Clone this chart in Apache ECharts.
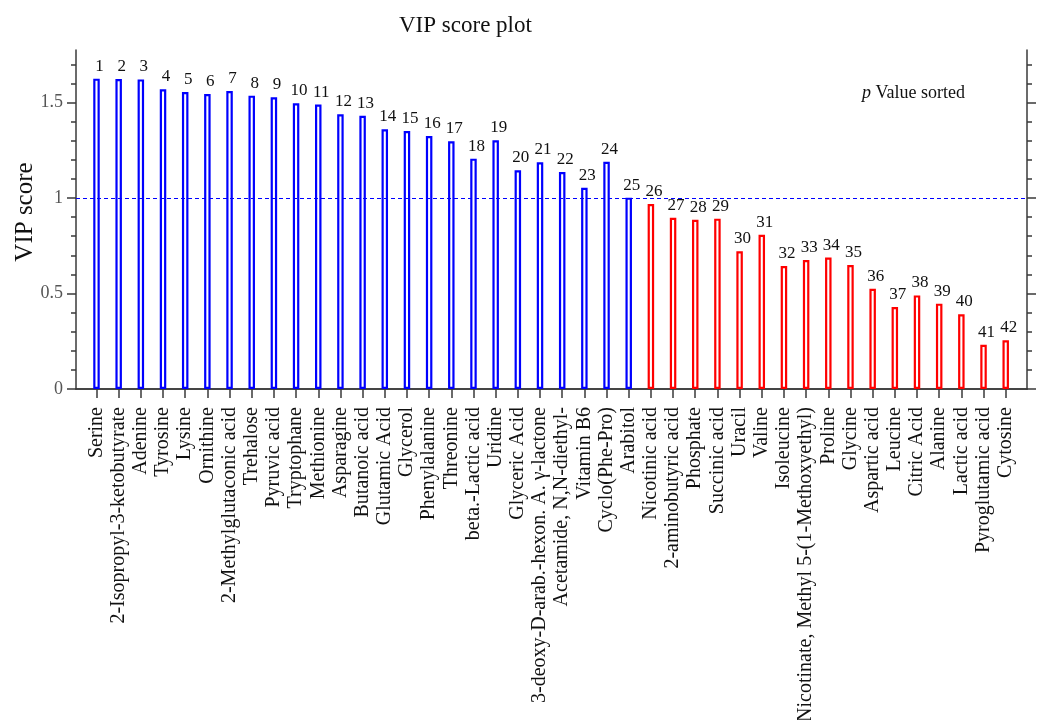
<!DOCTYPE html>
<html>
<head>
<meta charset="utf-8">
<script src="https://cdn.jsdelivr.net/npm/echarts@6/dist/echarts.min.js"></script>
<style>
  html, body { margin: 0; padding: 0; background: #fff; }
  #chart { width: 1041px; height: 720px; }
</style>
</head>
<body>
<div id="chart"></div>
<script>
// Metabolites ordered by p value, with their VIP scores
const metabolites = [
  'Serine', '2-Isopropyl-3-ketobutyrate', 'Adenine', 'Tyrosine', 'Lysine',
  'Ornithine', '2-Methylglutaconic acid', 'Trehalose', 'Pyruvic acid', 'Tryptophane',
  'Methionine', 'Asparagine', 'Butanoic acid', 'Glutamic Acid', 'Glycerol',
  'Phenylalanine', 'Threonine', 'beta.-Lactic acid', 'Uridine', 'Glyceric Acid',
  '3-deoxy-D-arab.-hexon. A. \u03b3-lactone', 'Acetamide, N,N-diethyl-', 'Vitamin B6', 'Cyclo(Phe-Pro)', 'Arabitol',
  'Nicotinic acid', '2-aminobutyric acid', 'Phosphate', 'Succinic acid', 'Uracil',
  'Valine', 'Isoleucine', 'Nicotinate, Methyl 5-(1-Methoxyethyl)', 'Proline', 'Glycine',
  'Aspartic acid', 'Leucine', 'Citric Acid', 'Alanine', 'Lactic acid',
  'Pyroglutamic acid', 'Cytosine'
];
const vipScores = [
  1.625, 1.623, 1.621, 1.569, 1.555, 1.545, 1.560, 1.536, 1.527, 1.496,
  1.489, 1.438, 1.431, 1.360, 1.351, 1.325, 1.297, 1.206, 1.302, 1.145,
  1.187, 1.136, 1.054, 1.190, 1.002, 0.969, 0.897, 0.886, 0.892, 0.721,
  0.808, 0.644, 0.675, 0.688, 0.649, 0.525, 0.429, 0.490, 0.447, 0.391,
  0.232, 0.255
];
const vipThreshold = 1;
const yLabelTicks = [0, 0.5, 1, 1.5];
const yMinorTicks = [0, 0.1, 0.2, 0.3, 0.4, 0.5, 0.6, 0.7, 0.8, 0.9, 1, 1.1, 1.2, 1.3, 1.4, 1.5, 1.6, 1.7];
const topMajorTicks = [5, 10, 15, 20, 25, 30, 35, 40];

const positions = metabolites.map((_, i) => i + 1);
const FONT = 'Liberation Serif';
const AXIS_COLOR = '#3a3a3a';

// Hollow bars: blue above the VIP threshold, red below it
const barData = vipScores.map((v, i) => ({
  value: [i + 1, v],
  itemStyle: {
    color: '#ffffff',
    borderColor: v >= vipThreshold ? '#0000ff' : '#ff0000',
    borderWidth: 2.2
  }
}));

const yCommon = { type: 'value', min: 0, max: 1.775, splitLine: { show: false } };
const xCommon = { type: 'value', min: 0.076, max: 42.96, splitLine: { show: false } };
const lineStyle = { color: AXIS_COLOR, width: 1.5 };

const chart = echarts.init(document.getElementById('chart'), null, { renderer: 'canvas' });
chart.setOption({
  animation: false,
  backgroundColor: '#ffffff',
  grid: { left: 76, right: 14, top: 50, bottom: 331, containLabel: false, outerBoundsMode: 'none' },
  title: {
    text: 'VIP score plot',
    left: 394, top: 9,
    textStyle: { fontFamily: FONT, fontSize: 23, fontWeight: 'normal', color: '#111' }
  },
  graphic: [
    {
      type: 'text', left: 862, top: 84,
      style: {
        text: '{i|p} Value sorted',
        rich: { i: { fontStyle: 'italic', fontFamily: FONT, fontSize: 18, fill: '#111' } },
        font: '18px "Liberation Serif"', fill: '#111'
      }
    },
    {
      type: 'text', rotation: Math.PI / 2, x: 13, y: 212,
      style: {
        text: 'VIP score', font: '25px "Liberation Serif"', fill: '#111',
        align: 'center', verticalAlign: 'top'
      }
    }
  ],
  xAxis: [
    Object.assign({}, xCommon, {
      position: 'bottom',
      axisLine: { show: true, lineStyle },
      axisTick: { show: true, inside: false, length: 9, lineStyle, customValues: positions },
      axisLabel: {
        show: true, customValues: positions, rotate: 90, margin: 18,
        fontFamily: FONT, fontSize: 20, color: '#111',
        formatter: v => metabolites[Math.round(v) - 1] || ''
      }
    }),
    Object.assign({}, xCommon, {
      position: 'top',
      axisLine: { show: true, lineStyle },
      axisTick: { show: true, length: 4, lineStyle, customValues: positions },
      axisLabel: { show: false }
    }),
    Object.assign({}, xCommon, {
      position: 'top',
      axisLine: { show: false },
      axisTick: { show: true, length: 8, lineStyle, customValues: topMajorTicks },
      axisLabel: { show: false }
    })
  ],
  yAxis: [
    Object.assign({}, yCommon, {
      position: 'left',
      axisLine: { show: true, lineStyle },
      axisTick: { show: true, length: 5, lineStyle, customValues: yMinorTicks },
      axisLabel: {
        show: true, customValues: yLabelTicks, margin: 13,
        fontFamily: FONT, fontSize: 18, color: '#555'
      }
    }),
    Object.assign({}, yCommon, {
      position: 'left',
      axisLine: { show: false },
      axisTick: { show: true, length: 9, lineStyle, customValues: yLabelTicks },
      axisLabel: { show: false }
    }),
    Object.assign({}, yCommon, {
      position: 'right',
      axisLine: { show: true, lineStyle },
      axisTick: { show: true, length: 5, lineStyle, customValues: yMinorTicks },
      axisLabel: { show: false }
    }),
    Object.assign({}, yCommon, {
      position: 'right',
      axisLine: { show: false },
      axisTick: { show: true, length: 9, lineStyle, customValues: yLabelTicks },
      axisLabel: { show: false }
    })
  ],
  series: [
    {
      type: 'bar',
      xAxisIndex: 0,
      yAxisIndex: 0,
      barWidth: 6.5,
      data: barData,
      label: {
        show: true, position: 'top', distance: 4, offset: [3, 0],
        fontFamily: FONT, fontSize: 17, color: '#111',
        formatter: p => String(p.value[0])
      },
      markLine: {
        silent: true,
        symbol: 'none',
        label: { show: false },
        lineStyle: { color: '#0000ff', type: [4, 3], width: 1 },
        data: [{ yAxis: vipThreshold }]
      }
    }
  ]
});
</script>
</body>
</html>
